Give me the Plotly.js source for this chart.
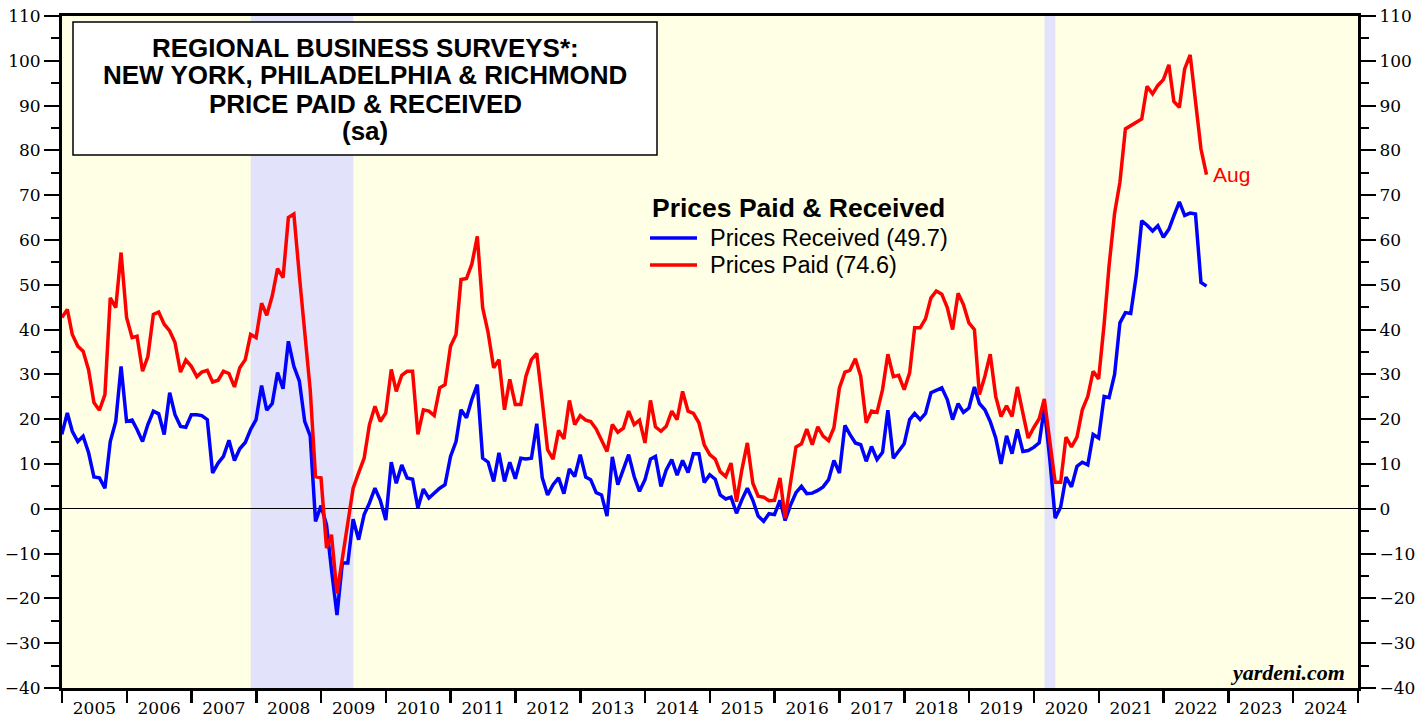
<!DOCTYPE html>
<html>
<head>
<meta charset="utf-8">
<script src="https://cdn.plot.ly/plotly-3.0.1.min.js"></script>
<style>
  html, body { margin: 0; padding: 0; background: #ffffff; }
  #chart { width: 1427px; height: 719px; }
</style>
</head>
<body>
<div id="chart"></div>
<script>
// Monthly survey values, Dec 2004 .. Aug 2022 (plotted at month end)
const firstYear = 2004;
const firstMonthIndex = 11; // December
const seriesNames = ['Prices Received (49.7)', 'Prices Paid (74.6)'];
const seriesColors = ['#0000FF', '#FF0000'];

const pricesReceived = [
  16.6,
  21.4, 17.3, 15.0, 16.2, 12.5, 7.1, 6.9, 4.6, 15.0, 19.5, 31.8, 19.5,
  19.8, 17.7, 15.0, 18.8, 21.8, 21.2, 16.6, 25.9, 21.0, 18.4, 18.2, 21.0,
  21.0, 20.8, 19.9, 8.0, 10.2, 11.7, 15.3, 10.8, 13.4, 14.8, 17.7, 19.9,
  27.5, 22.0, 23.5, 30.4, 26.8, 37.4, 31.8, 28.5, 19.5, 16.3, -2.8, 0.7,
  -3.6, -13.6, -23.7, -12.1, -12.1, -2.3, -6.9, -1.3, 1.3, 4.6, 1.9, -2.5,
  10.4, 5.7, 9.8, 6.9, 6.6, 0.2, 4.4, 2.4, 3.5, 4.6, 5.4, 11.7,
  15.0, 22.1, 20.3, 24.4, 27.7, 11.3, 10.4, 6.1, 12.5, 6.1, 10.4, 6.7,
  11.3, 11.1, 11.3, 19.0, 6.9, 3.1, 5.4, 6.9, 3.4, 8.9, 7.2, 12.1,
  7.1, 6.5, 3.6, 3.1, -1.6, 11.6, 5.4, 8.7, 12.1, 7.2, 3.9, 6.5,
  11.1, 11.7, 5.0, 8.7, 11.0, 7.5, 10.8, 8.1, 12.3, 12.3, 5.9, 7.6,
  6.6, 3.1, 2.2, 2.6, -1.0, 2.0, 4.6, 1.9, -1.6, -2.8, -1.1, -1.3,
  1.9, -2.6, 0.9, 3.6, 5.0, 3.4, 3.5, 4.1, 4.9, 6.5, 10.8, 8.0,
  18.6, 16.6, 14.7, 14.3, 10.6, 13.9, 11.0, 12.6, 22.0, 11.3, 12.8, 14.5,
  19.9, 21.3, 19.9, 21.3, 25.9, 26.4, 27.0, 24.4, 19.9, 23.5, 21.5, 22.5,
  27.2, 23.5, 22.1, 19.5, 15.8, 10.0, 16.3, 12.3, 17.7, 12.8, 13.0, 13.7,
  14.7, 22.5, 11.0, -2.1, 0.4, 7.1, 4.9, 9.5, 10.4, 9.8, 16.6, 15.8,
  25.1, 24.8, 30.0, 41.5, 43.8, 43.6, 52.0, 64.3, 63.3, 62.0, 63.2, 60.6,
  62.4, 65.4, 68.5, 65.5, 66.0, 65.8, 50.5, 49.7
];

const pricesPaid = [
  42.7,
  44.5, 38.9, 36.3, 35.2, 31.0, 23.7, 22.0, 25.5, 47.1, 44.9, 57.2, 42.7,
  38.2, 38.5, 30.7, 34.0, 43.4, 43.9, 41.2, 39.7, 37.1, 30.5, 33.2, 31.8,
  29.5, 30.5, 30.9, 28.3, 28.7, 30.7, 30.2, 27.2, 31.5, 33.3, 38.9, 38.2,
  45.9, 43.2, 47.5, 53.6, 51.6, 65.0, 65.8, 52.0, 40.0, 26.6, 7.2, 6.9,
  -8.8, -5.8, -18.9, -11.4, -2.5, 4.6, 8.0, 11.3, 18.8, 22.9, 19.5, 21.4,
  31.1, 26.2, 29.8, 30.7, 30.7, 16.6, 22.1, 21.8, 20.8, 27.0, 27.7, 36.3,
  38.9, 51.2, 51.4, 54.6, 60.8, 44.9, 39.3, 31.5, 33.3, 22.1, 28.9, 23.3,
  23.3, 29.6, 33.3, 34.7, 24.0, 13.2, 11.1, 17.5, 15.6, 24.2, 18.8, 20.8,
  19.8, 19.5, 17.8, 15.4, 12.8, 18.8, 17.1, 18.0, 21.8, 18.8, 19.8, 14.7,
  24.2, 18.3, 17.3, 18.4, 21.8, 19.9, 26.2, 21.8, 21.3, 19.2, 14.3, 12.1,
  11.1, 8.3, 7.2, 10.2, 1.6, 8.7, 14.7, 5.7, 2.8, 2.6, 1.8, 1.9,
  6.9, -2.1, 5.5, 13.8, 14.5, 17.8, 14.3, 18.3, 16.2, 15.2, 18.1, 27.0,
  30.5, 30.9, 33.5, 29.6, 19.2, 21.8, 21.5, 26.6, 34.5, 29.5, 29.8, 26.6,
  30.4, 40.4, 40.4, 42.4, 47.1, 48.6, 47.9, 44.9, 40.0, 48.1, 45.6, 41.5,
  40.0, 25.5, 29.6, 34.5, 25.1, 20.6, 23.0, 20.6, 27.2, 21.4, 15.8, 18.1,
  20.1, 24.5, 15.2, 5.9, 5.9, 16.0, 13.8, 16.0, 22.1, 25.1, 30.7, 29.0,
  41.2, 54.3, 66.0, 72.9, 84.8, 85.5, 86.3, 87.0, 94.3, 92.6, 94.5, 95.8,
  99.1, 90.9, 89.6, 98.2, 101.3, 91.0, 80.3, 74.6
];

const recessions = [
  ['2007-12-01', '2009-07-01'],
  ['2020-03-01', '2020-05-01']
];
const axisStart = '2005-01-01';
const axisEnd = '2025-01-01';
const lastLabel = 'Aug';
const titleLines = [
  'REGIONAL BUSINESS SURVEYS*:',
  'NEW YORK, PHILADELPHIA & RICHMOND',
  'PRICE PAID & RECEIVED',
  '(sa)'
];
const legendTitle = 'Prices Paid & Received';
const sourceLabel = 'yardeni.com';

// month-end dates for each observation
function monthEnd(i) {
  const d = new Date(Date.UTC(firstYear, firstMonthIndex + i + 1, 0));
  return d.toISOString().slice(0, 10);
}
const dates = pricesReceived.map((_, i) => monthEnd(i));

const W = 1427, H = 719;
const M = { l: 62, r: 69, t: 16, b: 31 };
const PW = W - M.l - M.r, PH = H - M.t - M.b;
const px = x => (x - M.l) / PW;
const py = y => 1 - (y - M.t) / PH;

const serifTick = { family: 'DejaVu Serif, serif', size: 17, color: '#000000' };
const sans = 'Liberation Sans, Arial, sans-serif';

const traces = [
  {
    type: 'scatter', mode: 'lines', name: seriesNames[0],
    x: dates, y: pricesReceived, yaxis: 'y',
    line: { color: seriesColors[0], width: 3.5 },
    hoverinfo: 'skip', showlegend: false
  },
  {
    type: 'scatter', mode: 'lines', name: seriesNames[1],
    x: dates, y: pricesPaid, yaxis: 'y2',
    line: { color: seriesColors[1], width: 3.5 },
    hoverinfo: 'skip', showlegend: false
  }
];

const shapes = recessions.map(r => ({
  type: 'rect', xref: 'x', yref: 'paper', x0: r[0], x1: r[1], y0: 0, y1: 1,
  fillcolor: '#E2E2FA', line: { width: 0 }, layer: 'below'
}));
// title box
shapes.push({
  type: 'rect', xref: 'paper', yref: 'paper',
  x0: px(73), x1: px(657), y0: py(155), y1: py(22),
  fillcolor: '#FFFFFF', line: { color: '#000000', width: 1.5 }, layer: 'above'
});

const titleY = [48, 75, 104, 131];
const annotations = titleLines.map((t, i) => ({
  xref: 'paper', yref: 'paper', x: px(365), y: py(titleY[i]),
  xanchor: 'center', yanchor: 'middle', showarrow: false,
  text: '<b>' + t + '</b>',
  font: { family: sans, size: 26, color: '#000000' }
}));
annotations.push({
  xref: 'x', yref: 'y', x: dates[dates.length - 1], y: pricesPaid[pricesPaid.length - 1],
  xanchor: 'left', yanchor: 'middle', xshift: 5, showarrow: false,
  text: lastLabel, font: { family: sans, size: 21, color: seriesColors[1] }
});
annotations.push({
  xref: 'paper', yref: 'paper', x: px(1347), y: py(672),
  xanchor: 'right', yanchor: 'middle', showarrow: false,
  text: '<b><i>' + sourceLabel + '</i></b>',
  font: { family: 'Liberation Serif, serif', size: 22, color: '#000000' }
});

// legend (title, sample lines and labels)
annotations.push({
  xref: 'paper', yref: 'paper', x: px(650), y: py(208),
  xanchor: 'left', yanchor: 'middle', showarrow: false,
  text: '<b>' + legendTitle + '</b>',
  font: { family: sans, size: 26.5, color: '#000000' }
});
const legendRows = [238, 265];
seriesNames.forEach((n, i) => {
  shapes.push({
    type: 'line', xref: 'paper', yref: 'paper',
    x0: px(650), x1: px(697), y0: py(legendRows[i]), y1: py(legendRows[i]),
    line: { color: seriesColors[i], width: 3.5 }
  });
  annotations.push({
    xref: 'paper', yref: 'paper', x: px(708), y: py(legendRows[i]),
    xanchor: 'left', yanchor: 'middle', showarrow: false,
    text: n, font: { family: sans, size: 23.5, color: '#000000' }
  });
});

const yCommon = {
  range: [-40, 110], autorange: false, dtick: 10, tick0: 0,
  ticks: 'outside', ticklen: 15, tickwidth: 2, tickcolor: '#000000',
  minor: { dtick: 5, tick0: 0, ticks: 'outside', ticklen: 8, tickwidth: 2, tickcolor: '#000000', showgrid: false },
  showline: true, linewidth: 3, linecolor: '#000000',
  showgrid: false, tickfont: serifTick, fixedrange: true
};

const layout = {
  width: W, height: H, margin: M,
  paper_bgcolor: '#FFFFFF', plot_bgcolor: '#FFFFE5',
  showlegend: false,
  xaxis: {
    type: 'date', range: [axisStart, axisEnd], autorange: false,
    dtick: 'M12', tick0: axisStart, tickformat: '%Y', ticklabelmode: 'period',
    ticks: 'outside', ticklen: 12, tickwidth: 2.5, tickcolor: '#000000',
    ticklabelstandoff: -9,
    showline: true, linewidth: 3, linecolor: '#000000', mirror: true,
    showgrid: false, zeroline: false, tickfont: serifTick, fixedrange: true
  },
  yaxis: Object.assign({}, yCommon, {
    zeroline: true, zerolinecolor: '#000000', zerolinewidth: 1
  }),
  yaxis2: Object.assign({}, yCommon, {
    overlaying: 'y', side: 'right', zeroline: false
  }),
  shapes: shapes,
  annotations: annotations
};

Plotly.newPlot('chart', traces, layout, { staticPlot: true, displayModeBar: false });
</script>
</body>
</html>
